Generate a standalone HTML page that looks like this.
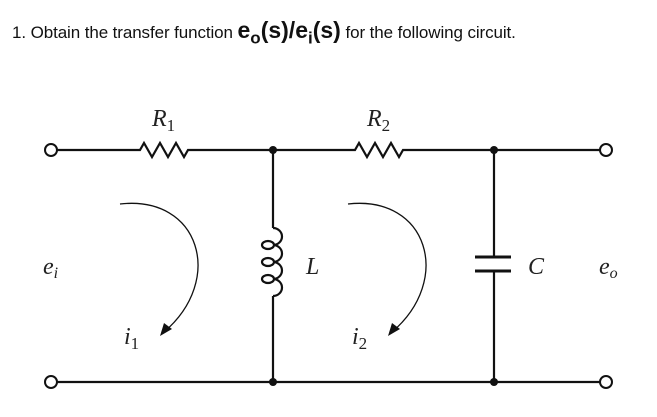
<!DOCTYPE html>
<html><head><style>
body{margin:0;background:#fff;width:657px;height:417px;overflow:hidden;position:relative}
.t{position:absolute;left:12px;top:17px;font-family:"Liberation Sans",sans-serif;font-size:17px;color:#111;white-space:nowrap;letter-spacing:-0.1px}
.b{font-weight:bold;font-size:23px;letter-spacing:0}
.b sub{font-size:17px}
</style></head><body>
<div class="t">1. Obtain the transfer function <span class="b">e<sub>o</sub>(s)/e<sub>i</sub>(s)</span> for the following circuit.</div>
<svg width="657" height="417" style="position:absolute;left:0;top:0" font-family="Liberation Serif,serif" font-style="italic">
<g stroke="#111" stroke-width="2.2" fill="none" stroke-linejoin="miter">
<path d="M51 150H140L144 143L152 157L160 143L168 157L176 143L184 157L188 150H273H355L359 143L367 157L375 143L383 157L391 143L399 157L403 150H606"/>
<path d="M51 382H606"/>
<path d="M273 150V228"/>
<path d="M273 228a9 8.5 0 0 1 0 17a9 8.5 0 0 1 0 17a9 8.5 0 0 1 0 17a9 8.5 0 0 1 0 17"/>
<ellipse cx="268" cy="245" rx="6" ry="4"/>
<ellipse cx="268" cy="262" rx="6" ry="4"/>
<ellipse cx="268" cy="279" rx="6" ry="4"/>
<path d="M273 296V382"/>
<path d="M494 150V257M494 271V382"/>
<path d="M475 257H511M475 271H511" stroke-width="3"/>
</g>
<g stroke="#111" stroke-width="1.3" fill="none">
<path d="M120 204C200 195 225 280 164 332"/>
<path d="M348 204C428 195 453 280 392 332"/>
</g>
<path d="M160 336l4 -13 8 6z" fill="#111"/>
<path d="M388 336l4 -13 8 6z" fill="#111"/>
<g fill="#111" stroke="none"><circle cx="273" cy="150" r="4"/><circle cx="494" cy="150" r="4"/><circle cx="273" cy="382" r="4"/><circle cx="494" cy="382" r="4"/></g>
<g fill="#fff" stroke="#111" stroke-width="2"><circle cx="51" cy="150" r="6"/><circle cx="606" cy="150" r="6"/><circle cx="51" cy="382" r="6"/><circle cx="606" cy="382" r="6"/></g>
<g font-size="24" fill="#222">
<text x="152" y="126">R<tspan font-style="normal" font-size="17" dy="5">1</tspan></text>
<text x="367" y="126">R<tspan font-style="normal" font-size="17" dy="5">2</tspan></text>
<text x="43" y="274">e<tspan font-size="16" dy="4">i</tspan></text>
<text x="599" y="274">e<tspan font-size="16" dy="4">o</tspan></text>
<text x="306" y="274">L</text>
<text x="528" y="274">C</text>
<text x="124" y="344">i<tspan font-style="normal" font-size="17" dy="5">1</tspan></text>
<text x="352" y="344">i<tspan font-style="normal" font-size="17" dy="5">2</tspan></text>
</g>
</svg>
</body></html>
